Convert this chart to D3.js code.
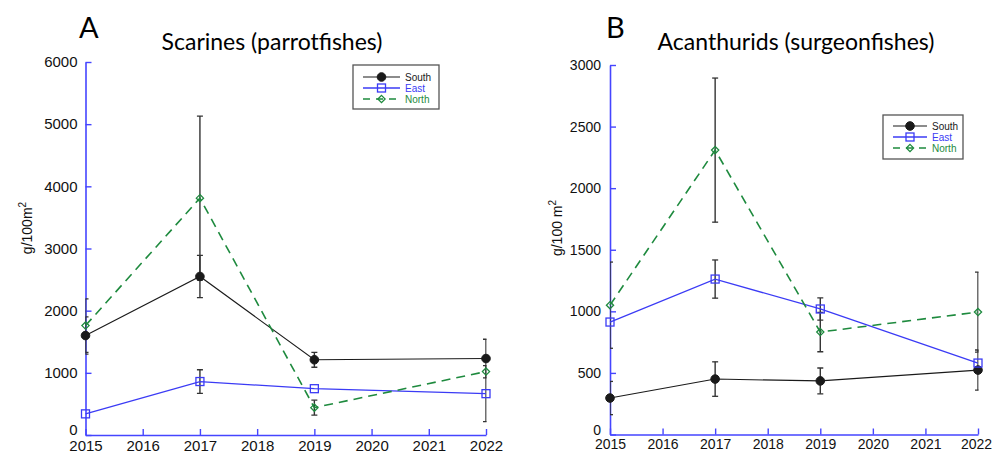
<!DOCTYPE html>
<html>
<head>
<meta charset="utf-8">
<script src="https://cdn.jsdelivr.net/npm/d3@7"></script>
<style>
  html, body { margin: 0; padding: 0; background: #fff; }
  svg { display: block; }
  .tick text { font-family: "Liberation Sans", Arial, sans-serif; fill: #111; }
</style>
</head>
<body>
<svg id="chart" width="992" height="457"></svg>
<script>
// Survey years shared by both panels
const years = [2015, 2017, 2019, 2022];
const siteNames = ["South", "East", "North"];

// Panel A: Scarines (parrotfishes), biomass g/100 m2, mean and error
const scarSouth    = [1600, 2550, 1210, 1230];
const scarSouthErr = [300, 340, 120, 310];
const scarEast     = [340, 860, 745, 665];
const scarEastErr  = [null, 190, null, 450];
const scarNorth    = [1760, 3810, 440, 1020];
const scarNorthErr = [430, 1320, 120, null];

// Panel B: Acanthurids (surgeonfishes), biomass g/100 m2, mean and error
const acanSouth    = [296, 450, 435, 523];
const acanSouthErr = [135, 140, 105, 163];
const acanEast     = [913, 1262, 1019, 580];
const acanEastErr  = [null, 155, 90, null];
const acanNorth    = [1050, 2309, 832, 994];
const acanNorthErr = [350, 585, 160, 325];

// Axis ticks
const yearTicks = [2015, 2016, 2017, 2018, 2019, 2020, 2021, 2022];
const scarTicks = [0, 1000, 2000, 3000, 4000, 5000, 6000];
const acanTicks = [0, 500, 1000, 1500, 2000, 2500, 3000];

const AXIS = "#4545ff";
const styles = {
  South: { color: "#1a1a1a", width: 1.1, dash: null, marker: "circle" },
  East:  { color: "#3b3bf5", width: 1.3, dash: null, marker: "square" },
  North: { color: "#1e8a3e", width: 1.6, dash: "9,6", marker: "diamond" }
};

const svg = d3.select("#chart");

function drawMarker(g, kind, x, y, color) {
  if (kind === "circle") {
    g.append("circle").attr("cx", x).attr("cy", y).attr("r", 4.3)
      .attr("fill", color).attr("stroke", color);
  } else if (kind === "square") {
    g.append("rect").attr("x", x - 4).attr("y", y - 4).attr("width", 8).attr("height", 8)
      .attr("fill", "none").attr("stroke", color).attr("stroke-width", 1.3);
  } else {
    const s = 3.6;
    g.append("path")
      .attr("d", `M${x},${y - s}L${x + s},${y}L${x},${y + s}L${x - s},${y}Z`)
      .attr("fill", "none").attr("stroke", color).attr("stroke-width", 1.3);
  }
}

function panel(cfg) {
  const x = d3.scaleLinear().domain([2015, 2022]).range(cfg.xr);
  const y = d3.scaleLinear().domain([0, cfg.yMax]).range(cfg.yr);
  const g = svg.append("g");
  const clipId = "clip-" + cfg.id;
  svg.append("clipPath").attr("id", clipId)
    .append("rect")
    .attr("x", cfg.xr[0]).attr("y", 0)
    .attr("width", cfg.xr[1] - cfg.xr[0] + 0.5).attr("height", 457);

  // axes (inward ticks, blue)
  const xAxis = g.append("g").attr("transform", `translate(0,${cfg.yr[0]})`)
    .call(d3.axisBottom(x).tickValues(yearTicks).tickFormat(d3.format("d"))
      .tickSizeInner(-6).tickSizeOuter(0).tickPadding(5));
  const yAxis = g.append("g").attr("transform", `translate(${cfg.xr[0]},0)`)
    .call(d3.axisLeft(y).tickValues(cfg.ticks).tickFormat(d3.format("d"))
      .tickSizeInner(-6).tickSizeOuter(0).tickPadding(cfg.yPad));
  [xAxis, yAxis].forEach(a => {
    a.select(".domain").attr("stroke", AXIS).attr("stroke-width", 1.6);
    a.selectAll(".tick line").attr("stroke", AXIS).attr("stroke-width", 1.4);
    a.selectAll(".tick text").style("font-size", cfg.tickFont + "px");
  });
  // the zero label sits just above the year labels
  yAxis.selectAll(".tick text").filter(d => d === 0).attr("dy", "-0.02em");
  // keep the last year label inside the page
  xAxis.selectAll(".tick text").filter(d => d === 2022).attr("dx", cfg.lastDx);

  const series = cfg.series;
  const plot = g.append("g");

  // error bars, clipped to the year range
  const eb = plot.append("g").attr("clip-path", `url(#${clipId})`);
  series.forEach(s => {
    s.values.forEach((v, i) => {
      const e = s.err[i];
      if (e == null) return;
      const cx = x(years[i]);
      const y1 = y(v + e), y0 = y(v - e);
      eb.append("line").attr("x1", cx).attr("x2", cx).attr("y1", y1).attr("y2", y0)
        .attr("stroke", "#333").attr("stroke-width", 1.4);
      [y1, y0].forEach(yy => eb.append("line")
        .attr("x1", cx - 3).attr("x2", cx + 3).attr("y1", yy).attr("y2", yy)
        .attr("stroke", "#333").attr("stroke-width", 1.3));
    });
  });

  // lines
  const line = d3.line().x((d, i) => x(years[i])).y(d => y(d));
  series.forEach(s => {
    const st = styles[s.name];
    plot.append("path").datum(s.values).attr("d", line)
      .attr("fill", "none").attr("stroke", st.color).attr("stroke-width", st.width)
      .attr("stroke-dasharray", st.dash);
  });

  // markers
  series.forEach(s => {
    const st = styles[s.name];
    s.values.forEach((v, i) => drawMarker(plot, st.marker, x(years[i]), y(v), st.color));
  });

  // panel letter and title
  g.append("text").attr("x", cfg.letterX).attr("y", cfg.letterY)
    .style("font-family", "Lato, 'Open Sans', sans-serif").style("font-size", "29px")
    .attr("fill", "#000").text(cfg.letter);
  g.append("text").attr("x", cfg.titleX).attr("y", 50).attr("text-anchor", "middle")
    .style("font-family", "Lato, 'Open Sans', sans-serif").style("font-size", "23px")
    .attr("fill", "#000").text(cfg.title);

  // y axis label with superscript
  const yl = g.append("text")
    .attr("transform", `translate(${cfg.yLabelX},${cfg.yLabelY}) rotate(-90)`)
    .attr("text-anchor", "middle")
    .style("font-family", "'Liberation Sans', Arial, sans-serif").style("font-size", "14px")
    .attr("fill", "#111");
  yl.append("tspan").text(cfg.yLabel);
  yl.append("tspan").attr("dy", -6).style("font-size", "10px").text("2");

  // legend
  const L = cfg.legend;
  const lg = g.append("g");
  lg.append("rect").attr("x", L.x).attr("y", L.y).attr("width", L.w).attr("height", L.h)
    .attr("fill", "#fff").attr("stroke", "#555").attr("stroke-width", 1.3);
  siteNames.forEach((name, k) => {
    const st = styles[name];
    const yy = L.y + L.first + k * L.step;
    lg.append("line").attr("x1", L.x + L.l0).attr("x2", L.x + L.l1)
      .attr("y1", yy).attr("y2", yy)
      .attr("stroke", st.color).attr("stroke-width", st.width)
      .attr("stroke-dasharray", st.dash ? "7,6" : null);
    drawMarker(lg, st.marker, L.x + (L.l0 + L.l1) / 2, yy, st.color);
    lg.append("text").attr("x", L.x + L.l1 + 5).attr("y", yy + 3.5)
      .style("font-family", "'Liberation Sans', Arial, sans-serif").style("font-size", "10px")
      .attr("fill", st.color).text(name);
  });
}

panel({
  id: "a", letter: "A", letterX: 79, letterY: 38,
  title: "Scarines (parrotfishes)", titleX: 272,
  xr: [85.5, 486], yr: [435, 62], yMax: 6000, ticks: scarTicks,
  tickFont: 15, yPad: 8, lastDx: 0,
  yLabel: "g/100m", yLabelX: 32, yLabelY: 228,
  legend: { x: 353, y: 65, w: 86, h: 44, first: 12, step: 11, l0: 10, l1: 47 },
  series: [
    { name: "South", values: scarSouth, err: scarSouthErr },
    { name: "East",  values: scarEast,  err: scarEastErr },
    { name: "North", values: scarNorth, err: scarNorthErr }
  ]
});

panel({
  id: "b", letter: "B", letterX: 606, letterY: 38,
  title: "Acanthurids (surgeonfishes)", titleX: 796,
  xr: [610, 978], yr: [434.5, 65], yMax: 3000, ticks: acanTicks,
  tickFont: 14, yPad: 9, lastDx: -2,
  yLabel: "g/100 m", yLabelX: 562, yLabelY: 228,
  legend: { x: 883, y: 115, w: 80, h: 44, first: 11, step: 11, l0: 10, l1: 44 },
  series: [
    { name: "South", values: acanSouth, err: acanSouthErr },
    { name: "East",  values: acanEast,  err: acanEastErr },
    { name: "North", values: acanNorth, err: acanNorthErr }
  ]
});
</script>
</body>
</html>
